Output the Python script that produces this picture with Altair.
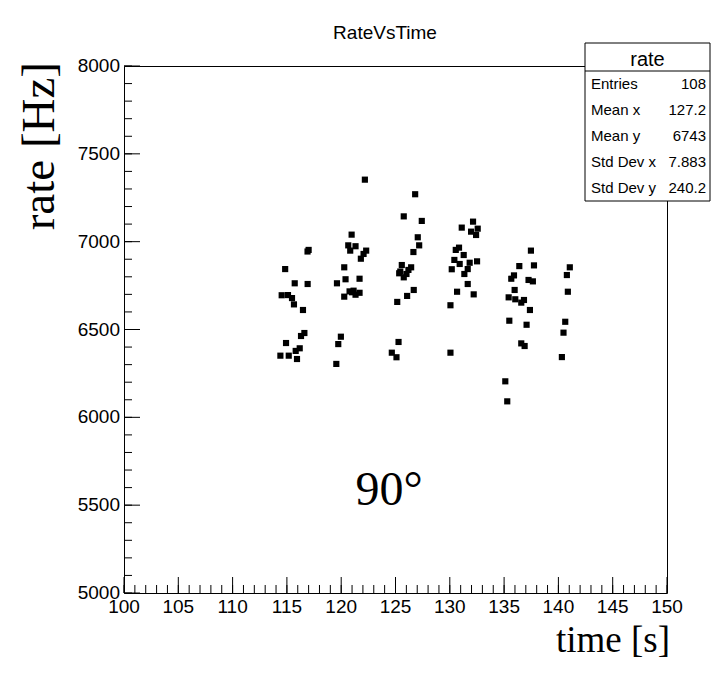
import altair as alt
import pandas as pd

# ---- data ----
time_s = [
    117.00, 116.90, 114.84, 115.72, 116.91, 114.52, 115.10, 115.47, 115.65, 116.48,
    116.61, 116.30, 114.92, 116.18, 115.81, 114.40, 115.17, 115.93,
    122.18, 120.96, 120.65, 121.32, 120.83, 122.30, 122.06, 121.81, 120.28, 120.40,
    121.69, 119.61, 120.77, 121.14, 121.69, 121.32, 120.28, 119.97, 119.73, 119.55, 121.00,
    126.81, 125.76, 127.42, 127.05, 127.18, 126.65, 125.58, 126.44, 126.19, 125.34,
    126.01, 125.76, 126.68, 126.07, 125.16, 125.28, 124.66, 125.09, 125.44,
    132.14, 131.10, 132.57, 131.96, 132.42, 130.85, 130.55, 131.28, 130.42, 130.91,
    131.83, 132.51, 130.18, 131.65, 131.34, 131.65, 130.67, 132.20, 130.06, 130.06,
    137.47, 136.40, 137.75, 135.91, 135.66, 137.25, 137.65, 135.97, 135.42, 136.03,
    136.83, 136.58, 137.38, 135.48, 137.07, 136.58, 136.89, 135.11, 135.29,
    141.05, 140.78, 140.87, 140.63, 140.47, 140.32,
]
rate_hz = [
    6953, 6944, 6844, 6763, 6759, 6695, 6696, 6679, 6643, 6611,
    6480, 6463, 6423, 6393, 6378, 6351, 6351, 6332,
    7353, 7040, 6979, 6974, 6949, 6949, 6930, 6903, 6854, 6786,
    6789, 6763, 6717, 6721, 6709, 6698, 6687, 6459, 6417, 6304, 6712,
    7270, 7144, 7118, 7025, 6979, 6941, 6867, 6854, 6839, 6820,
    6816, 6797, 6725, 6691, 6657, 6429, 6368, 6342, 6830,
    7114, 7080, 7074, 7057, 7038, 6966, 6953, 6924, 6896, 6873,
    6880, 6888, 6843, 6844, 6816, 6759, 6715, 6700, 6638, 6368,
    6949, 6861, 6865, 6808, 6789, 6782, 6774, 6725, 6683, 6672,
    6668, 6653, 6611, 6550, 6527, 6421, 6406, 6205, 6091,
    6854, 6810, 6715, 6544, 6482, 6343,
]

x_major = [100, 105, 110, 115, 120, 125, 130, 135, 140, 145, 150]
x_minor = list(range(100, 151))
y_major = [5000, 5500, 6000, 6500, 7000, 7500, 8000]
y_minor = list(range(5000, 8001, 100))

chart_title = ["RateVsTime"]
x_title = ["time [s]"]
y_title = ["rate [Hz]"]
note = ["90°"]
stat_title = ["rate"]
stat_names = ["Entries", "Mean x", "Mean y", "Std Dev x", "Std Dev y"]
stat_values = ["108", "127.2", "6743", "7.883", "240.2"]

# ---- layout ----
W, H = 543, 527
SANS = "Liberation Sans"
SERIF = "Liberation Serif"

xs = alt.Scale(domain=[100, 150], nice=False, zero=False)
ys = alt.Scale(domain=[5000, 8000], nice=False, zero=False)

pts = pd.DataFrame({"time": time_s, "rate": rate_hz})
points = alt.Chart(pts).mark_square(size=38, color="black", opacity=1).encode(
    x=alt.X("time:Q", scale=xs, axis=None),
    y=alt.Y("rate:Q", scale=ys, axis=None),
)

def xticks(vals, length):
    return alt.Chart(pd.DataFrame({"v": vals})).mark_rule(color="black", strokeWidth=1).encode(
        x=alt.X("v:Q", scale=xs, axis=None), y=alt.value(H), y2=alt.value(H - length))

def yticks(vals, length):
    return alt.Chart(pd.DataFrame({"v": vals})).mark_rule(color="black", strokeWidth=1).encode(
        y=alt.Y("v:Q", scale=ys, axis=None), x=alt.value(0), x2=alt.value(length))

xlabels = alt.Chart(pd.DataFrame({"v": x_major})).mark_text(
    font=SANS, fontSize=19, align="center", baseline="top", color="black").encode(
    x=alt.X("v:Q", scale=xs, axis=None), y=alt.value(H + 5), text=alt.Text("v:Q", format="d"))

ylabels = alt.Chart(pd.DataFrame({"v": y_major})).mark_text(
    font=SANS, fontSize=19, align="right", baseline="middle", color="black").encode(
    y=alt.Y("v:Q", scale=ys, axis=None), x=alt.value(-4), text=alt.Text("v:Q", format="d"))

def label(txt, x, y, size, font, align="center", baseline="middle", angle=0):
    kw = dict(fontSize=size, font=font, align=align, baseline=baseline, color="black")
    if angle:
        kw["angle"] = angle
    return alt.Chart(pd.DataFrame({"t": txt})).mark_text(**kw).encode(
        x=alt.value(x), y=alt.value(y), text="t:N")

one = pd.DataFrame({"a": [0]})
BX0, BX1 = 461, 586
box = alt.Chart(one).mark_rect(fill="white", stroke="black", strokeWidth=1).encode(
    x=alt.value(BX0), x2=alt.value(BX1), y=alt.value(-23), y2=alt.value(135))
sep = alt.Chart(one).mark_rule(color="black", strokeWidth=1).encode(
    x=alt.value(BX0), x2=alt.value(BX1), y=alt.value(5))

layers = [
    xticks(x_minor, 8), xticks(x_major, 16), yticks(y_minor, 8), yticks(y_major, 16),
    points, xlabels, ylabels,
    label(chart_title, 261, -33, 19, SANS),
    label(x_title, 546, 586, 37, SERIF, align="right", baseline="alphabetic"),
    label(y_title, -70, -4, 47, SERIF, align="right", baseline="alphabetic", angle=270),
    label(note, 265, 439, 48, SERIF, baseline="alphabetic"),
    box, sep,
    label(stat_title, (BX0 + BX1) / 2, -6, 20, SANS),
]
for i, (n, v) in enumerate(zip(stat_names, stat_values)):
    yy = 17.5 + 26.2 * i
    layers.append(label([n], 467, yy, 15, SANS, align="left"))
    layers.append(label([v], BX1 - 4, yy, 15, SANS, align="right"))

chart = alt.layer(*layers).properties(
    width=W, height=H,
    autosize=alt.AutoSizeParams(type="none"),
    padding={"left": 116, "top": 58, "right": 44, "bottom": 68},
    background="white",
).configure_view(stroke="black", strokeWidth=1)

chart.save("out.html", embed_options={"renderer": "svg", "actions": False})
